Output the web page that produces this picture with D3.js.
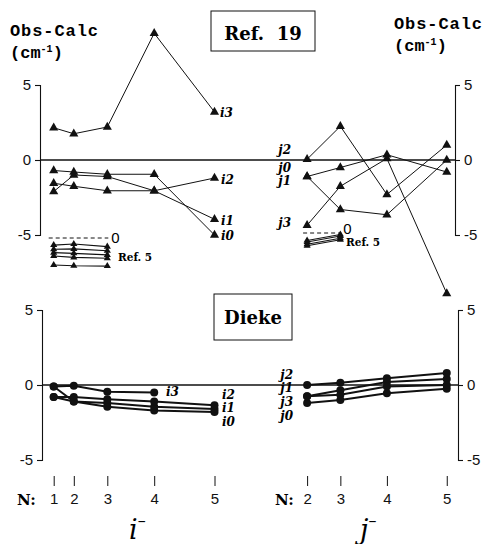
<!DOCTYPE html>
<html>
<head>
<meta charset="utf-8">
<script src="https://cdn.jsdelivr.net/npm/d3@7"></script>
<style>
  body { margin: 0; background: #fff; }
</style>
</head>
<body>
<div id="container"></div>
<script>
// N values for the two branches
const nI = [1, 2, 3, 4, 5];
const nJ = [2, 3, 4, 5];

// Ref. 19 (obs - calc, cm-1)
const ref19_i0 = [-0.7, -0.8, -0.95, -0.95, -5.0];
const ref19_i1 = [-2.1, -1.0, -1.1, -2.05, -3.95];
const ref19_i2 = [-1.55, -1.75, -2.05, -2.05, -1.2];
const ref19_i3 = [2.15, 1.75, 2.2, 8.45, 3.2];
const ref19_j0 = [-1.1, -0.5, 0.35, -0.8];
const ref19_j1 = [-1.1, -3.3, -3.65, 0.0];
const ref19_j2 = [0.05, 2.25, -2.3, 1.0];
const ref19_j3 = [-4.35, -1.75, 0.1, -8.9];

// Ref. 5 inset (N = 1..3 and N = 2..3)
const ref5_i_row1 = [-0.47, -0.4, -0.58];
const ref5_i_row2 = [-0.75, -0.73, -0.85];
const ref5_i_row3 = [-0.98, -1.02, -1.13];
const ref5_i_row4 = [-1.2, -1.29, -1.35];
const ref5_i_row5 = [-1.8, -1.85, -1.87];
const ref5_j_row1 = [-0.5, -0.1];
const ref5_j_row2 = [-0.6, -0.2];
const ref5_j_row3 = [-0.75, -0.35];
const ref5_j_row4 = [-0.85, -0.45];

// Dieke
const dieke_i0 = [-0.8, -1.1, -1.45, -1.7, -1.8];
const dieke_i1 = [-0.1, -1.1, -1.2, -1.45, -1.6];
const dieke_i2 = [-0.8, -0.8, -0.95, -1.1, -1.35];
const dieke_i3 = [-0.1, -0.05, -0.45, -0.5];
const dieke_j0 = [-1.2, -1.0, -0.55, -0.25];
const dieke_j1 = [-0.75, -0.35, 0.2, 0.4];
const dieke_j2 = [0.0, 0.15, 0.45, 0.8];
const dieke_j3 = [-0.75, -0.65, -0.1, 0.0];

const yTicks = [-5, 0, 5];

let w = 490;
let h = 544;
let viz = d3.select("#container")
  .append("svg")
    .attr("width", w)
    .attr("height", h)
;

// x goes with N^2
let xi = d3.scalePow().exponent(2).domain([0, 5]).range([47, 214.5]);
let xj = d3.scalePow().exponent(2).domain([0, 5]).range([280.5, 446.75]);

let yTop = d3.scaleLinear().domain([-5, 5]).range([235, 85]);
let yBot = d3.scaleLinear().domain([-5, 5]).range([460, 310]);
let yRef5i = d3.scaleLinear().domain([0, -1]).range([238, 253]);
let yRef5j = d3.scaleLinear().domain([0, -1]).range([233, 248]);

let tickFont = "'Liberation Sans', sans-serif";
let serif = "'DejaVu Serif', serif";

function drawAxes(y, xLeft, xRight) {
  let left = viz.append("g")
      .attr("transform", "translate(" + xLeft + ",0)")
      .call(d3.axisLeft(y).tickValues(yTicks).tickSize(5).tickPadding(4).tickFormat(d => String(d)));
  let right = viz.append("g")
      .attr("transform", "translate(" + xRight + ",0)")
      .call(d3.axisRight(y).tickValues(yTicks).tickSize(5).tickPadding(4).tickFormat(d => String(d)));
  [left, right].forEach(g => {
    g.selectAll("text").attr("font-family", tickFont).attr("font-size", 15).attr("fill", "#111");
    g.selectAll("path, line").attr("stroke", "#111").attr("stroke-width", 1.1);
  });
  // zero line
  viz.append("line")
      .attr("x1", xLeft).attr("x2", xRight)
      .attr("y1", y(0)).attr("y2", y(0))
      .attr("stroke", "#111").attr("stroke-width", 1.3);
}

drawAxes(yTop, 40, 455);
drawAxes(yBot, 42, 458);

function drawSeries(vals, ns, x, y, marker, width) {
  let pts = vals.map((v, i) => [x(ns[i]), y(v)]);
  viz.append("path")
      .attr("d", d3.line()(pts))
      .attr("fill", "none")
      .attr("stroke", "#111")
      .attr("stroke-width", width);
  let g = viz.append("g");
  if (marker == "tri" || marker == "smalltri") {
    let sym = d3.symbol(d3.symbolTriangle).size(marker == "tri" ? 36 : 22);
    g.selectAll("path").data(pts).enter()
      .append("path")
        .attr("d", sym)
        .attr("transform", d => "translate(" + d[0] + "," + d[1] + ")")
        .attr("fill", "#111");
  } else {
    g.selectAll("circle").data(pts).enter()
      .append("circle")
        .attr("cx", d => d[0])
        .attr("cy", d => d[1])
        .attr("r", 4)
        .attr("fill", "#111");
  }
}

// Ref. 19 panel
[ref19_i0, ref19_i1, ref19_i2, ref19_i3].forEach(s => drawSeries(s, nI, xi, yTop, "tri", 1));
[ref19_j0, ref19_j1, ref19_j2, ref19_j3].forEach(s => drawSeries(s, nJ, xj, yTop, "tri", 1));

// Ref. 5 insets
[ref5_i_row1, ref5_i_row2, ref5_i_row3, ref5_i_row4, ref5_i_row5]
  .forEach(s => drawSeries(s, [1, 2, 3], xi, yRef5i, "smalltri", 1.2));
[ref5_j_row1, ref5_j_row2, ref5_j_row3, ref5_j_row4]
  .forEach(s => drawSeries(s, [2, 3], xj, yRef5j, "smalltri", 1.2));

viz.append("line")
    .attr("x1", xi(1) - 5).attr("x2", xi(3) + 1)
    .attr("y1", yRef5i(0)).attr("y2", yRef5i(0))
    .attr("stroke", "#111").attr("stroke-dasharray", "4,3");
viz.append("line")
    .attr("x1", xj(2) - 4).attr("x2", xj(3) + 1)
    .attr("y1", yRef5j(0)).attr("y2", yRef5j(0))
    .attr("stroke", "#111").attr("stroke-dasharray", "4,3");
viz.append("text").text("0")
    .attr("x", xi(3) + 4).attr("y", yRef5i(0) + 5)
    .attr("font-family", tickFont).attr("font-size", 15);
viz.append("text").text("0")
    .attr("x", xj(3) + 3).attr("y", yRef5j(0) + 1)
    .attr("font-family", tickFont).attr("font-size", 15);
viz.append("text").text("Ref. 5")
    .attr("x", 118).attr("y", 261)
    .attr("font-family", serif).attr("font-weight", "bold").attr("font-size", 10.5);
viz.append("text").text("Ref. 5")
    .attr("x", 346).attr("y", 246)
    .attr("font-family", serif).attr("font-weight", "bold").attr("font-size", 10.5);

// Dieke panel
[dieke_i0, dieke_i1, dieke_i2].forEach(s => drawSeries(s, nI, xi, yBot, "dot", 2));
drawSeries(dieke_i3, [1, 2, 3, 4], xi, yBot, "dot", 2);
[dieke_j0, dieke_j1, dieke_j2, dieke_j3].forEach(s => drawSeries(s, nJ, xj, yBot, "dot", 2));

// series labels
function label(txt, x, y, anchor) {
  viz.append("text").text(txt)
      .attr("x", x).attr("y", y)
      .attr("text-anchor", anchor || "start")
      .attr("font-family", serif)
      .attr("font-style", "italic")
      .attr("font-weight", "bold")
      .attr("font-size", 12);
}
label("i3", 220, 117);
label("i2", 221, 184);
label("i1", 221, 225);
label("i0", 221, 240);
label("j2", 291, 154, "end");
label("j0", 291, 172, "end");
label("j1", 291, 185, "end");
label("j3", 291, 227, "end");

label("i3", 166, 396);
label("i2", 222, 399);
label("i1", 222, 412);
label("i0", 222, 426);
label("j2", 293, 379, "end");
label("j1", 293, 392, "end");
label("j3", 293, 406, "end");
label("j0", 293, 420, "end");

// title boxes
viz.append("rect").attr("x", 211).attr("y", 11).attr("width", 104).attr("height", 40)
    .attr("fill", "none").attr("stroke", "#111");
viz.append("text").text("Ref.  19")
    .attr("x", 263).attr("y", 40).attr("text-anchor", "middle")
    .style("white-space", "pre")
    .attr("font-family", serif).attr("font-weight", "bold").attr("font-size", 18);
viz.append("rect").attr("x", 214).attr("y", 294).attr("width", 78).attr("height", 46)
    .attr("fill", "none").attr("stroke", "#111");
viz.append("text").text("Dieke")
    .attr("x", 253).attr("y", 324).attr("text-anchor", "middle")
    .attr("font-family", serif).attr("font-weight", "bold").attr("font-size", 18);

// y titles
function yTitle(x, y1, y2) {
  viz.append("text").text("Obs-Calc")
      .attr("x", x).attr("y", y1)
      .attr("font-family", "'Liberation Mono', monospace")
      .attr("font-weight", "bold").attr("font-size", 17)
      .attr("textLength", 88);
  let t = viz.append("text")
      .attr("x", x).attr("y", y2)
      .attr("font-family", "'Liberation Mono', monospace")
      .attr("font-weight", "bold").attr("font-size", 17);
  t.append("tspan").text("(cm");
  t.append("tspan").text("-1").attr("font-size", 10).attr("dy", -6);
  t.append("tspan").text(")").attr("dy", 6);
}
yTitle(10, 36, 58);
yTitle(394, 29, 51);

// N axis
function nAxis(x, ns, labelX) {
  let g = viz.append("g")
      .attr("transform", "translate(0,476)")
      .call(d3.axisBottom(x).tickValues(ns).tickSize(10).tickPadding(7).tickFormat(d3.format("d")));
  g.select(".domain").remove();
  g.selectAll("line").attr("stroke", "#111");
  g.selectAll("text").attr("font-family", tickFont).attr("font-size", 15).attr("fill", "#111");
  viz.append("text").text("N:")
      .attr("x", labelX).attr("y", 505)
      .attr("font-family", serif).attr("font-weight", "bold").attr("font-size", 15);
}
nAxis(xi, nI, 17);
nAxis(xj, nJ, 275);

// branch names
function branch(letter, x) {
  let t = viz.append("text")
      .attr("x", x).attr("y", 539)
      .attr("font-family", serif)
      .attr("font-style", "italic")
      .attr("font-size", 27);
  t.append("tspan").text(letter);
  t.append("tspan").text("\u2013").attr("font-size", 16).attr("dy", -13).attr("font-style", "normal");
}
branch("i", 129);
branch("j", 360);
</script>
</body>
</html>
